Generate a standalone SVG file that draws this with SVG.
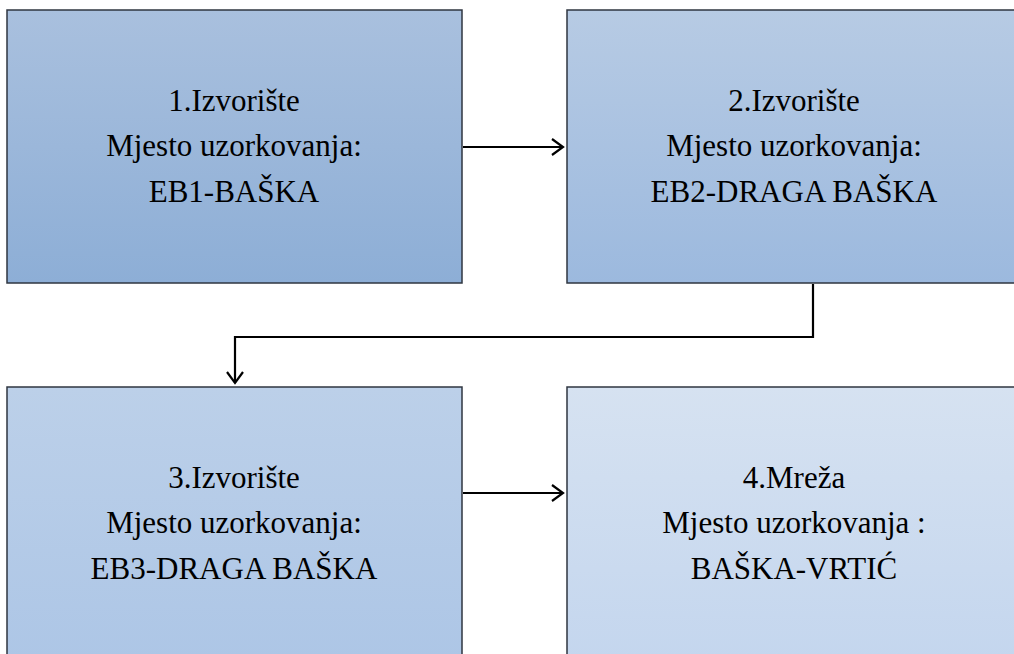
<svg xmlns="http://www.w3.org/2000/svg" width="1014" height="654" viewBox="0 0 1014 654">
<defs>
<linearGradient id="g1" x1="0" y1="0" x2="0" y2="1"><stop offset="0" stop-color="#a9c0de"/><stop offset="1" stop-color="#8daed6"/></linearGradient>
<linearGradient id="g2" x1="0" y1="0" x2="0" y2="1"><stop offset="0" stop-color="#b7cbe4"/><stop offset="1" stop-color="#9cb9de"/></linearGradient>
<linearGradient id="g3" x1="0" y1="0" x2="0" y2="1"><stop offset="0" stop-color="#bcd0e9"/><stop offset="1" stop-color="#adc6e6"/></linearGradient>
<linearGradient id="g4" x1="0" y1="0" x2="0" y2="1"><stop offset="0" stop-color="#d6e2f1"/><stop offset="1" stop-color="#c4d6ee"/></linearGradient>
<marker id="ah" markerWidth="14" markerHeight="18" refX="12" refY="9" orient="auto" markerUnits="userSpaceOnUse">
<path d="M1,1 L12,9 L1,17" fill="none" stroke="#000" stroke-width="2.2"/>
</marker>
<style>
.box{stroke:#2f3640;stroke-width:1.5}
.c{fill:none;stroke:#000;stroke-width:2.2}
</style>
</defs>
<rect width="1014" height="654" fill="#fff"/>
<g font-family="Liberation Serif, DejaVu Serif, serif" font-size="31" fill="#000" text-anchor="middle">
<g id="node1">
<rect class="box" x="7" y="10" width="455" height="273" fill="url(#g1)"/>
<text x="234" y="111">1.Izvorište</text>
<text x="234" y="156">Mjesto uzorkovanja:</text>
<text x="234" y="202">EB1-BAŠKA</text>
</g>
<g id="node2">
<rect class="box" x="567" y="10" width="455" height="273" fill="url(#g2)"/>
<text x="794" y="111">2.Izvorište</text>
<text x="794" y="156">Mjesto uzorkovanja:</text>
<text x="794" y="202">EB2-DRAGA BAŠKA</text>
</g>
<g id="node3">
<rect class="box" x="7" y="387" width="455" height="273" fill="url(#g3)"/>
<text x="234" y="488">3.Izvorište</text>
<text x="234" y="533">Mjesto uzorkovanja:</text>
<text x="234" y="579">EB3-DRAGA BAŠKA</text>
</g>
<g id="node4">
<rect class="box" x="567" y="387" width="455" height="273" fill="url(#g4)"/>
<text x="794" y="488">4.Mreža</text>
<text x="794" y="533">Mjesto uzorkovanja :</text>
<text x="794" y="579">BAŠKA-VRTIĆ</text>
</g>
</g>
<g id="connectors">
<path class="c" d="M463,147 L563,147" marker-end="url(#ah)"/>
<path class="c" d="M813,284 L813,337 L235,337 L235,383" marker-end="url(#ah)"/>
<path class="c" d="M463,493 L563,493" marker-end="url(#ah)"/>
</g>
</svg>
